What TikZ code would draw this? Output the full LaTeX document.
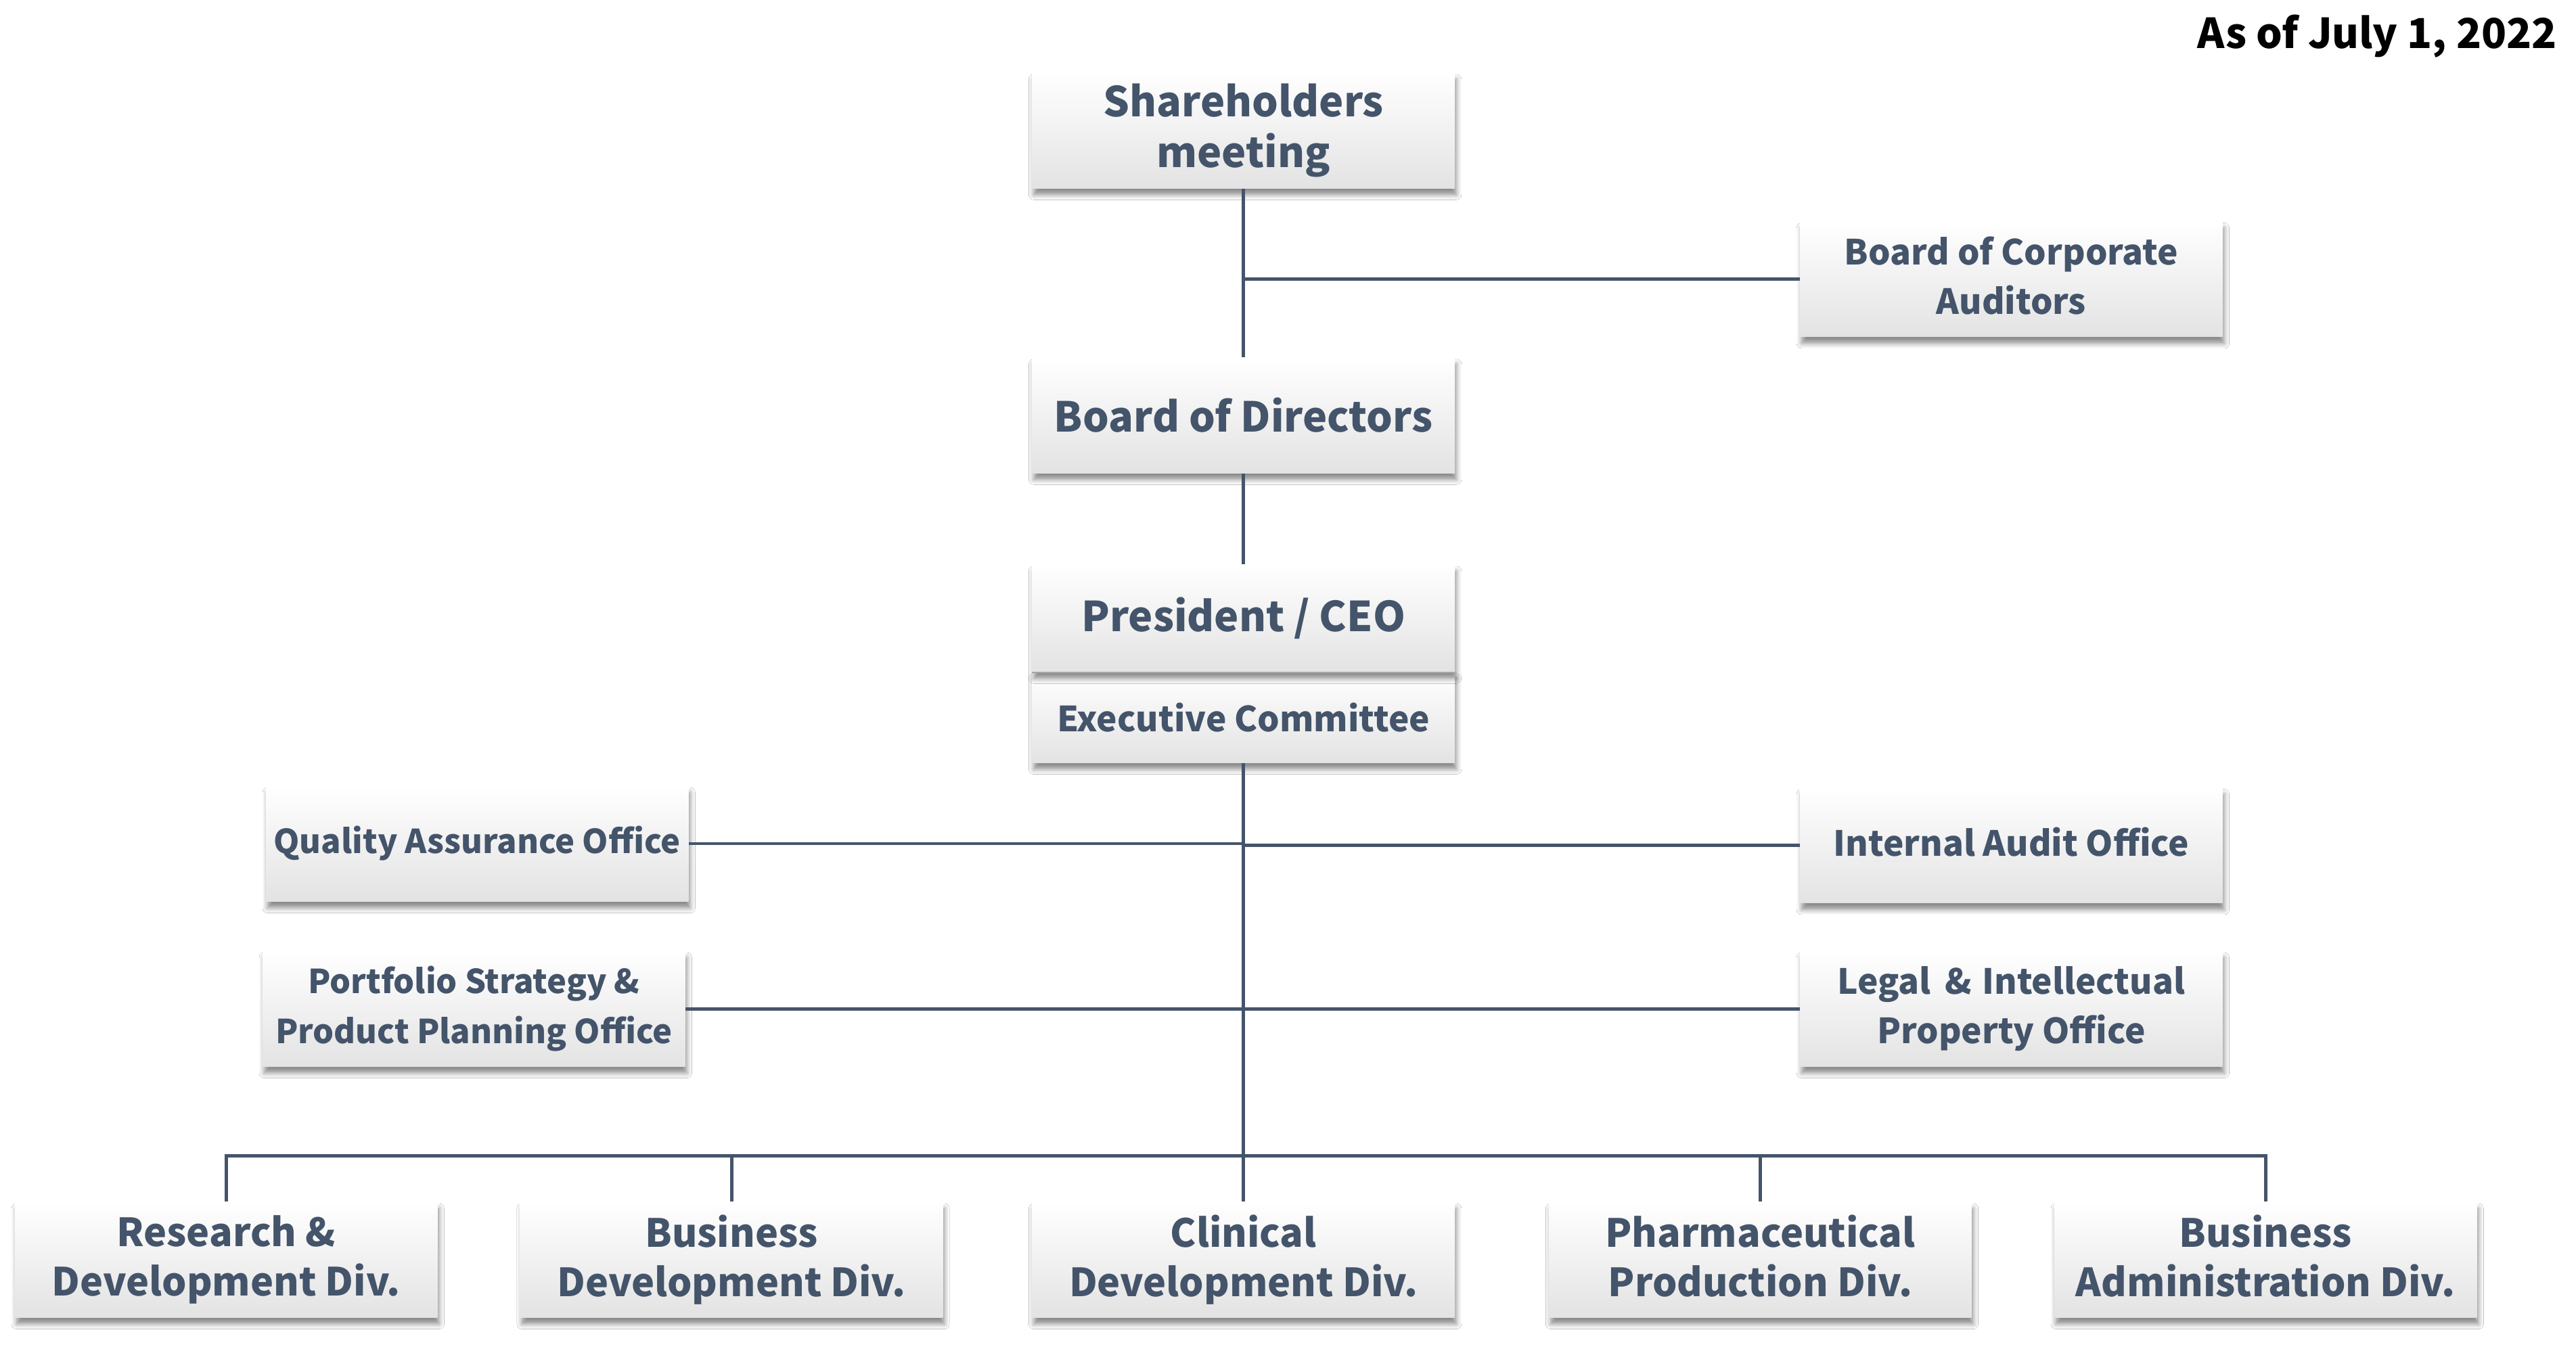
\documentclass[tikz,border=0pt]{standalone}
\usepackage{fontspec}
\setmainfont{Noto Sans CJK JP}
\usetikzlibrary{shadows.blur}
\definecolor{txt}{HTML}{44546A}
\definecolor{lnc}{HTML}{44546A}
\tikzset{
  box/.style={rectangle, inner sep=0pt, minimum width=256pt, minimum height=70pt,
    top color=white, middle color=white!97!black, bottom color=black!11,
    blur shadow={shadow xshift=1pt, shadow yshift=-4pt, shadow blur radius=3pt, shadow opacity=45},
    text=txt, align=center},
  big/.style={font=\fontsize{25}{31}\selectfont\bfseries},
  mid/.style={font=\fontsize{21}{30}\selectfont\bfseries},
  sml/.style={font=\fontsize{20}{30}\selectfont\bfseries},
  low/.style={font=\fontsize{23.5}{30}\selectfont\bfseries},
  conn/.style={draw=lnc, line width=2pt}
}
\begin{document}
\begin{tikzpicture}[x=1pt,y=-1pt]
\useasboundingbox[fill=white] (0,0) rectangle (1560,818);
\node[anchor=east, font=\fontsize{25}{28}\selectfont\bfseries] (date) at (1552,22) {As of July 1, 2022};
\node[box,big] (sh) at (753,79) {Shareholders\\meeting};
\node[box,mid] (bca) at (1218,169) {Board of Corporate\\Auditors\vphantom{p}};
\node[box,big] (bod) at (753,251.5) {Board of Directors};
\node[box,mid,minimum height=55pt] (exec) at (753,434.5) {Executive Committee};
\node[box,big,minimum height=65pt] (pres) at (753,374.5) {President / CEO};
\node[box,sml] (qa) at (289,511) {Quality Assurance Office};
\node[box,mid] (ia) at (1218,512) {Internal Audit Office\vphantom{p}};
\node[box,sml] (ps) at (287,611) {Portfolio Strategy \&\\Product Planning Office};
\node[box,mid] (lg) at (1218,611) {Legal\hspace{0.4em}\&\hspace{0.3em}Intellectual\\Property Office};
\node[box,low] (rd) at (137,763) {Research \&\\Development Div.};
\node[box,low] (bd) at (443,763) {Business\\Development Div.};
\node[box,low] (cd) at (753,763) {Clinical\\Development Div.};
\node[box,low] (ph) at (1066,763) {Pharmaceutical\\Production Div.\vphantom{p}};
\node[box,low] (ba) at (1372,763) {Business\\Administration Div.\vphantom{p}};
\draw[draw=black!35, line width=0.8pt] (pres.south west) -- (pres.south east);
\coordinate (bus) at (753,700);
\draw[conn] (sh.south) -- (bod.north);
\draw[conn] (bca.west) -- (bca.west -| sh.south);
\draw[conn] (bod.south) -- (pres.north);
\draw[conn] (exec.south) -- (cd.north);
\draw[conn] (qa.east) -- (qa.east -| exec.south);
\draw[conn] (ia.west) -- (ia.west -| exec.south);
\draw[conn] (ps.east) -- (ps.east -| exec.south);
\draw[conn] (lg.west) -- (lg.west -| exec.south);
\draw[conn] (rd.north) |- (bus) -| (ba.north);
\draw[conn] (bd.north) -- (bd.north |- bus);
\draw[conn] (ph.north) -- (ph.north |- bus);
\end{tikzpicture}
\end{document}
